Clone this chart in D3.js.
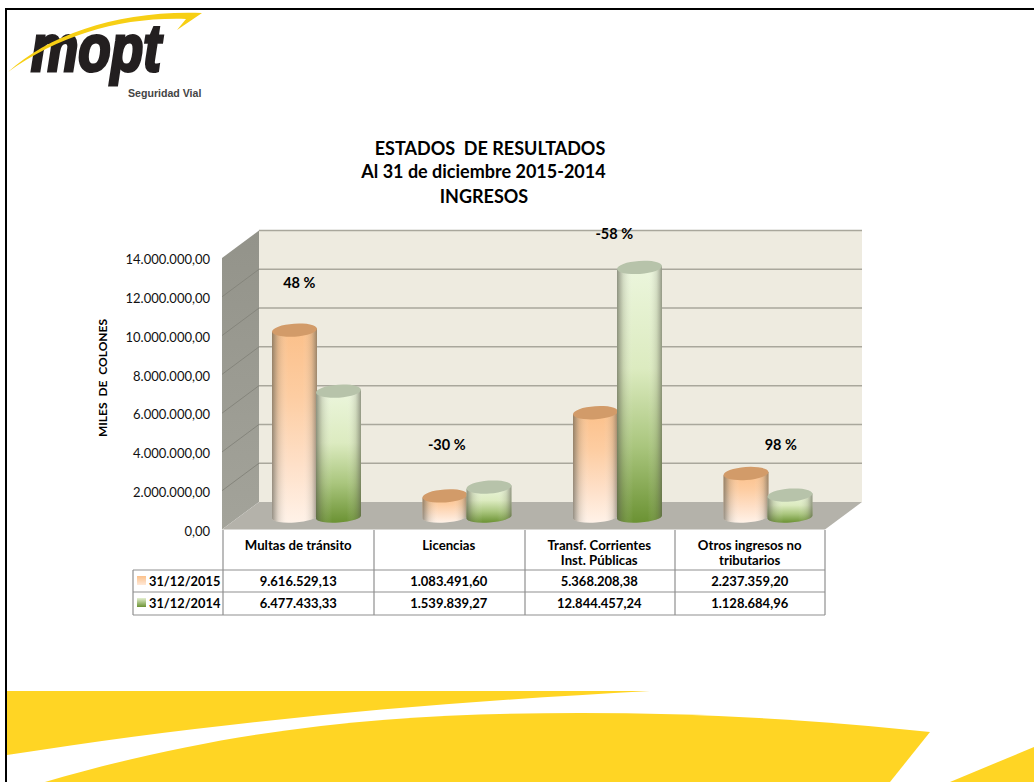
<!DOCTYPE html>
<html>
<head>
<meta charset="utf-8">
<script src="https://cdn.jsdelivr.net/npm/d3@7"></script>
<style>
	html, body { margin: 0; padding: 0; background: #fff; }
	svg { display: block; }
	text { font-family: Lato, "Open Sans", sans-serif; fill: #000; }
</style>
</head>
<body>
<svg id="chart" width="1034" height="782"></svg>
<script>
// data
const categories = ['Multas de tránsito', 'Licencias', 'Transf. Corrientes|Inst. Públicas', 'Otros ingresos no|tributarios'];
const seriesNames = ['31/12/2015', '31/12/2014'];
const values2015 = [9616529.13, 1083491.60, 5368208.38, 2237359.20];
const values2014 = [6477433.33, 1539839.27, 12844457.24, 1128684.96];
const percentLabels = ['48 %', '-30 %', '-58 %', '98 %'];
const titleLines = ['ESTADOS  DE RESULTADOS', 'Al 31 de diciembre 2015-2014', 'INGRESOS'];
const yTicks = [0, 2000000, 4000000, 6000000, 8000000, 10000000, 12000000, 14000000];

const svg = d3.select('#chart');
const defs = svg.append('defs');

const esFormat = d3.formatLocale({decimal: ',', thousands: '.', grouping: [3], currency: ['', '']}).format(',.2f');

function gradient(id, horizontal, stops) {
	let g = defs.append('linearGradient')
		.attr('id', id)
		.attr('x1', 0).attr('y1', 0)
		.attr('x2', horizontal ? 1 : 0)
		.attr('y2', horizontal ? 0 : 1);
	stops.forEach(s => {
		g.append('stop')
			.attr('offset', s[0])
			.attr('stop-color', s[1])
			.attr('stop-opacity', s[2] === undefined ? 1 : s[2]);
	});
}

gradient('orangeBody', false, [[0, '#fbc08a'], [0.35, '#fdcda2'], [0.7, '#fee0c8'], [1, '#fff2e8']]);
gradient('greenBody', false, [[0, '#ecf6dd'], [0.4, '#dcebc0'], [0.7, '#aac67e'], [1, '#6b9233']]);
gradient('shade', true, [[0, '#55554a', 0.62], [0.14, '#77776a', 0.22], [0.36, '#ffffff', 0], [0.68, '#ffffff', 0], [0.88, '#77776a', 0.2], [1, '#55554a', 0.58]]);
gradient('sideWall', false, [[0, '#93938a'], [1, '#a3a39a']]);
gradient('swatchOrange', false, [[0, '#fbc08a'], [1, '#ffe9d8']]);
gradient('swatchGreen', false, [[0, '#e4f0d0'], [1, '#6b9233']]);

// page frame
svg.append('path')
	.attr('d', 'M6,782 V9 H1034')
	.attr('fill', 'none')
	.attr('stroke', '#000')
	.attr('stroke-width', 2);

// yellow bands at the bottom
const bands = [
	'M7,691 L650,691 C430,703 230,720 7,755 Z',
	'M45,782 C250,722 420,713 580,713 C700,713 820,720 930,732 L890,782 Z',
	'M950,782 L1034,747 V782 Z'
];
svg.selectAll('path.band')
	.data(bands)
	.enter()
	.append('path')
	.attr('class', 'band')
	.attr('d', d => d)
	.attr('fill', '#ffd524');

// logo
svg.append('text')
	.text('mopt')
	.attr('x', 31)
	.attr('y', 71)
	.attr('textLength', 130)
	.attr('lengthAdjust', 'spacingAndGlyphs')
	.style('font-family', '"Liberation Sans"')
	.style('font-weight', 700)
	.style('font-style', 'italic')
	.style('font-size', '66px')
	.style('fill', '#231f20')
	.style('stroke', '#231f20')
	.style('stroke-width', 3.2);

svg.append('path')
	.attr('d', 'M8,72 C50,34 120,10 202,13 L177,30 L186,19 C120,17 60,35 8,72 Z')
	.attr('fill', '#f7cf14');

svg.append('text')
	.text('Seguridad Vial')
	.attr('x', 128)
	.attr('y', 97)
	.style('font-family', '"Liberation Sans"')
	.style('font-weight', 700)
	.style('font-size', '10.6px')
	.style('fill', '#444');

// title
svg.selectAll('text.title')
	.data(titleLines)
	.enter()
	.append('text')
	.attr('class', 'title')
	.text(d => d)
	.attr('x', (d, i) => [490, 483.5, 484][i])
	.attr('y', (d, i) => [155, 178, 203][i])
	.attr('text-anchor', 'middle')
	.style('font-weight', 700)
	.style('font-size', '18px')
	.style('white-space', 'pre');

// 3d box
const depthX = 37;
const depthY = 27.5;
const frontLeft = 222;
const frontRight = 825;
const yFront = d3.scaleLinear().domain([0, 14000000]).range([529.5, 258]);
const yBack = d3.scaleLinear().domain([0, 14000000]).range([yFront(0) - depthY, yFront(14000000) - depthY]);
// the cylinders stand half way in the box
const yBar = d3.scaleLinear().domain([0, 14000000]).range([517, 245]);

const wallLeft = frontLeft + depthX;
const wallRight = frontRight + depthX;

svg.append('rect')
	.attr('x', wallLeft)
	.attr('y', yBack(14000000))
	.attr('width', wallRight - wallLeft)
	.attr('height', yBack(0) - yBack(14000000))
	.attr('fill', '#eeebe0');

svg.append('path')
	.attr('d', `M${frontLeft},${yFront(0)} V${yFront(14000000)} L${wallLeft},${yBack(14000000)} V${yBack(0)} Z`)
	.attr('fill', 'url(#sideWall)');

svg.append('path')
	.attr('d', `M${frontLeft},${yFront(0)} L${wallLeft},${yBack(0)} H${wallRight} L${frontRight},${yFront(0)} Z`)
	.attr('fill', '#b4b2aa');

svg.selectAll('line.grid')
	.data(yTicks.slice(1))
	.enter()
	.append('line')
	.attr('class', 'grid')
	.attr('x1', wallLeft)
	.attr('x2', wallRight)
	.attr('y1', d => yBack(d))
	.attr('y2', d => yBack(d))
	.attr('stroke', '#a9a79c')
	.attr('stroke-width', 1.5);

svg.selectAll('line.sideGrid')
	.data(yTicks.slice(1, -1))
	.enter()
	.append('line')
	.attr('class', 'sideGrid')
	.attr('x1', frontLeft)
	.attr('x2', wallLeft)
	.attr('y1', d => yFront(d))
	.attr('y2', d => yBack(d))
	.attr('stroke', '#85857c')
	.attr('stroke-width', 1);

// y axis
const yAxis = d3.axisLeft(yFront)
	.tickValues(yTicks)
	.tickFormat(d => esFormat(d))
	.tickSize(0)
	.tickPadding(12);

let axisG = svg.append('g')
	.attr('transform', `translate(${frontLeft},1.5)`)
	.call(yAxis);
axisG.select('.domain').remove();
axisG.selectAll('text')
	.style('font-family', 'Lato, sans-serif')
	.style('font-size', '13px')
	.style('fill', '#111');

svg.append('text')
	.text('MILES  DE  COLONES')
	.attr('transform', 'translate(107,378) rotate(-90)')
	.attr('text-anchor', 'middle')
	.style('font-weight', 700)
	.style('font-size', '12px')
	.style('white-space', 'pre');

// bars
const x0 = d3.scaleBand()
	.domain(categories)
	.range([223, 825]);
const x1 = d3.scaleBand()
	.domain(seriesNames)
	.range([0, 88]);

const rx = 22.5;
const ry = 6.5;
const tilt = 1.6;
const barShift = 49.5;

function cylinder(g, cx, value, bodyFill, topFill) {
	let yb = yBar(0);
	let yt = yBar(value);
	let body = `M${cx - rx},${yt + tilt} L${cx - rx},${yb + tilt} A${rx},5.5 -4 0 0 ${cx + rx},${yb - tilt} L${cx + rx},${yt - tilt} Z`;
	g.append('path').attr('d', body).attr('fill', bodyFill);
	g.append('path').attr('d', body).attr('fill', 'url(#shade)');
	g.append('ellipse')
		.attr('cx', cx)
		.attr('cy', yt)
		.attr('rx', rx)
		.attr('ry', ry)
		.attr('transform', `rotate(-4 ${cx} ${yt})`)
		.attr('fill', topFill);
}

categories.forEach((c, i) => {
	let g = svg.append('g').attr('class', 'group');
	let left = x0(c) + barShift;
	cylinder(g, left + x1(seriesNames[0]) + x1.bandwidth() / 2, values2015[i], 'url(#orangeBody)', '#d29b69');
	cylinder(g, left + x1(seriesNames[1]) + x1.bandwidth() / 2, values2014[i], 'url(#greenBody)', '#b7c3aa');
});

// percent labels float above the taller cylinder, not quite centred on the band
const percentLift = [47, 42, 33, 29];
const percentShift = [1, -2, 15, 31];
svg.selectAll('text.pct')
	.data(categories)
	.enter()
	.append('text')
	.attr('class', 'pct')
	.text((d, i) => percentLabels[i])
	.attr('x', (d, i) => x0(d) + x0.bandwidth() / 2 + percentShift[i])
	.attr('y', (d, i) => yBar(Math.max(values2015[i], values2014[i])) - percentLift[i] + 5)
	.attr('text-anchor', 'middle')
	.style('font-weight', 700)
	.style('font-size', '14.5px');

// data table
const lineColor = '#8f8f8f';
const tableTop = 530;
const rowA = 570;
const rowB = 592;
const rowC = 615;
const legendLeft = 133;

function tline(x1v, y1v, x2v, y2v) {
	svg.append('line')
		.attr('x1', x1v).attr('y1', y1v)
		.attr('x2', x2v).attr('y2', y2v)
		.attr('stroke', lineColor)
		.attr('stroke-width', 1.2);
}

[223, 374, 525, 675, 825].forEach(x => tline(x, tableTop, x, rowC));
[rowA, rowB, rowC].forEach(y => tline(legendLeft, y, 825, y));
tline(legendLeft, rowA, legendLeft, rowC);

categories.forEach((c, i) => {
	let parts = c.split('|');
	parts.forEach((p, j) => {
		svg.append('text')
			.text(p)
			.attr('x', x0(c) + x0.bandwidth() / 2)
			.attr('y', 550 + j * 15)
			.attr('text-anchor', 'middle')
			.style('font-weight', 700)
			.style('font-size', '13.2px');
	});
	[values2015, values2014].forEach((vals, k) => {
		svg.append('text')
			.text(esFormat(vals[i]))
			.attr('x', x0(c) + x0.bandwidth() / 2)
			.attr('y', [rowA, rowB][k] + 16)
			.attr('text-anchor', 'middle')
			.style('font-weight', 700)
			.style('font-size', '13px');
	});
});

// legend cells
seriesNames.forEach((s, k) => {
	let top = [rowA, rowB][k];
	svg.append('rect')
		.attr('x', 137)
		.attr('y', top + 6)
		.attr('width', 9)
		.attr('height', 9)
		.attr('fill', k === 0 ? 'url(#swatchOrange)' : 'url(#swatchGreen)');
	svg.append('text')
		.text(s)
		.attr('x', 149)
		.attr('y', top + 16)
		.style('font-weight', 700)
		.style('font-size', '12.8px');
});
</script>
</body>
</html>
